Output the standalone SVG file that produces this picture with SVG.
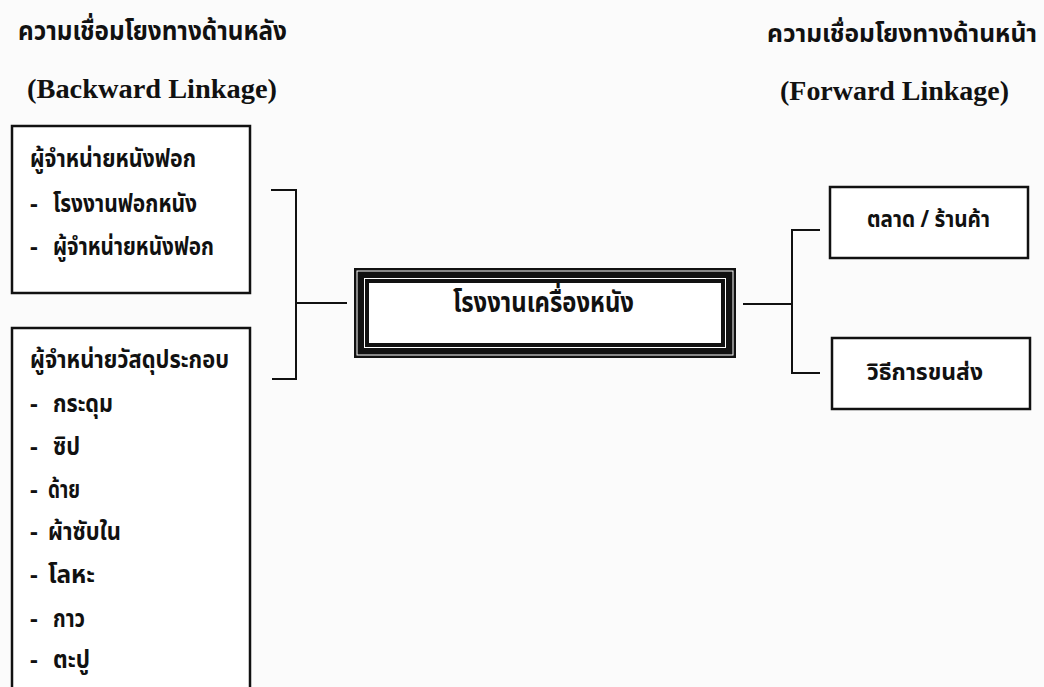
<svg xmlns="http://www.w3.org/2000/svg" width="1044" height="687" viewBox="0 0 1044 687">
<style>
.th{font-family:"Noto Sans Thai","Noto Serif Thai","Loma","Garuda","Noto Sans","DejaVu Sans",sans-serif;font-weight:bold;fill:#111;}
.en{font-family:"Liberation Serif","Times New Roman",serif;font-weight:bold;fill:#111;}
.box{fill:#fff;stroke:#111;stroke-width:2.5;}
.ln{fill:none;stroke:#111;stroke-width:2;}
</style>
<rect x="0" y="0" width="1044" height="687" fill="#fbfbfb"/>

<g id="titles">
<text class="th" x="18" y="40" font-size="26" textLength="269" lengthAdjust="spacingAndGlyphs">ความเชื่อมโยงทางด้านหลัง</text>
<text class="en" x="27" y="98" font-size="27" textLength="250" lengthAdjust="spacingAndGlyphs">(Backward Linkage)</text>
<text class="th" x="767" y="42" font-size="24" textLength="270" lengthAdjust="spacingAndGlyphs">ความเชื่อมโยงทางด้านหน้า</text>
<text class="en" x="780" y="100" font-size="27" textLength="229" lengthAdjust="spacingAndGlyphs">(Forward Linkage)</text>
</g>

<g id="connectors">
<polyline class="ln" points="271,190 296,190 296,379 272,379"/>
<line class="ln" x1="296" y1="303" x2="347" y2="303"/>
<line class="ln" x1="743" y1="304" x2="792" y2="304"/>
<polyline class="ln" points="820,230 792,230 792,373 820,373"/>
</g>

<g id="leather-suppliers">
<rect class="box" x="12" y="126" width="238" height="167"/>
<text class="th" x="30" y="167" font-size="24" textLength="166" lengthAdjust="spacingAndGlyphs">ผู้จำหน่ายหนังฟอก</text>
<text class="th" y="212" font-size="24"><tspan x="30">-</tspan><tspan x="53" textLength="144" lengthAdjust="spacingAndGlyphs">โรงงานฟอกหนัง</tspan></text>
<text class="th" y="255" font-size="24"><tspan x="30">-</tspan><tspan x="53" textLength="161" lengthAdjust="spacingAndGlyphs">ผู้จำหน่ายหนังฟอก</tspan></text>
</g>

<g id="material-suppliers">
<rect class="box" x="12" y="328" width="238" height="370"/>
<text class="th" x="30" y="368" font-size="24" textLength="199" lengthAdjust="spacingAndGlyphs">ผู้จำหน่ายวัสดุประกอบ</text>
<text class="th" y="412" font-size="24"><tspan x="30">-</tspan><tspan x="53" textLength="60" lengthAdjust="spacingAndGlyphs">กระดุม</tspan></text>
<text class="th" y="455" font-size="24"><tspan x="30">-</tspan><tspan x="53" textLength="27" lengthAdjust="spacingAndGlyphs">ซิป</tspan></text>
<text class="th" y="498" font-size="24"><tspan x="30">-</tspan><tspan x="48" textLength="32" lengthAdjust="spacingAndGlyphs">ด้าย</tspan></text>
<text class="th" y="540" font-size="24"><tspan x="30">-</tspan><tspan x="48" textLength="73" lengthAdjust="spacingAndGlyphs">ผ้าซับใน</tspan></text>
<text class="th" y="583" font-size="24"><tspan x="30">-</tspan><tspan x="48" textLength="47" lengthAdjust="spacingAndGlyphs">โลหะ</tspan></text>
<text class="th" y="627" font-size="24"><tspan x="30">-</tspan><tspan x="53" textLength="32" lengthAdjust="spacingAndGlyphs">กาว</tspan></text>
<text class="th" y="668" font-size="24"><tspan x="30">-</tspan><tspan x="53" textLength="37" lengthAdjust="spacingAndGlyphs">ตะปู</tspan></text>
</g>

<g id="leather-factory">
<rect x="354" y="268" width="382" height="90" fill="#111"/>
<rect x="357" y="271" width="376" height="84" fill="none" stroke="#fff" stroke-width="1"/>
<rect x="364.5" y="278.5" width="361" height="69" fill="none" stroke="#fff" stroke-width="1"/>
<rect x="369" y="283" width="352" height="60" fill="#fff"/>
<text class="th" x="453" y="312" font-size="28" textLength="181" lengthAdjust="spacingAndGlyphs">โรงงานเครื่องหนัง</text>
</g>

<g id="market">
<rect class="box" x="830" y="187" width="198" height="71"/>
<text class="th" x="867" y="227" font-size="23" textLength="123" lengthAdjust="spacingAndGlyphs">ตลาด / ร้านค้า</text>
</g>

<g id="transport">
<rect class="box" x="832" y="338" width="198" height="71"/>
<text class="th" x="867" y="380" font-size="23" textLength="116" lengthAdjust="spacingAndGlyphs">วิธีการขนส่ง</text>
</g>
</svg>
